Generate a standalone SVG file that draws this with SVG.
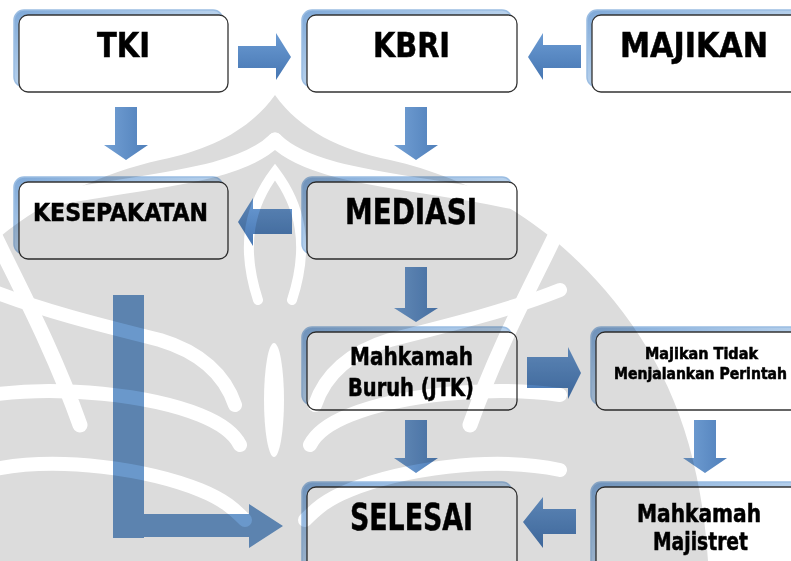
<svg xmlns="http://www.w3.org/2000/svg" width="791" height="561" viewBox="0 0 791 561">
<defs>
  <linearGradient id="gH" x1="0" y1="0" x2="0" y2="1">
    <stop offset="0" stop-color="#6b9bd3"/>
    <stop offset="1" stop-color="#4676b2"/>
  </linearGradient>
  <linearGradient id="gV" x1="0" y1="0" x2="1" y2="0">
    <stop offset="0" stop-color="#74a1d5"/>
    <stop offset="1" stop-color="#4f7fba"/>
  </linearGradient>
  <linearGradient id="gS" x1="0" y1="0" x2="1" y2="1">
    <stop offset="0" stop-color="#7fa9d8"/>
    <stop offset="0.5" stop-color="#b7d1ec"/>
    <stop offset="1" stop-color="#dbe8f5"/>
  </linearGradient>
  <style>
    .sh { fill: url(#gS); stroke: #9bbde2; stroke-width: 1.5; }
    .bx { fill: #ffffff; stroke: #333333; stroke-width: 1.3; }
    .t { font-family: "Liberation Sans Narrow", "DejaVu Sans Condensed", "Liberation Sans", sans-serif; font-weight: bold; fill: #000; stroke: #000; stroke-width: 0.5; }
    .ah { fill: url(#gH); }
    .av { fill: url(#gV); }
    .wm { fill: #dcdcdc; }
    .wb { fill: none; stroke: #ffffff; stroke-linecap: round; }
  </style>
</defs>
<rect x="0" y="0" width="791" height="561" fill="#ffffff"/>

<g id="connectors">
  <!-- TKI -> KBRI -->
  <polygon class="ah" points="238,46 276,46 276,33 291,57 276,80 276,68 238,68"/>
  <!-- MAJIKAN -> KBRI -->
  <polygon class="ah" points="581,45 543,45 543,33 528,57 543,80 543,68 581,68"/>
  <!-- TKI -> KESEPAKATAN -->
  <polygon class="av" points="115,107 137,107 137,145 148,145 126,160 104,145 115,145"/>
  <!-- KBRI -> MEDIASI -->
  <polygon class="av" points="405,107 427,107 427,145 438,145 416,160 394,145 405,145"/>
  <!-- MEDIASI -> KESEPAKATAN -->
  <polygon class="ah" points="292,209 253,209 253,198 238,222 253,246 253,234 292,234"/>
  <!-- MEDIASI -> Mahkamah Buruh -->
  <polygon class="av" points="405,267 427,267 427,308 438,308 416,322 394,308 405,308"/>
  <!-- Mahkamah Buruh -> Majikan Tidak -->
  <polygon class="ah" points="527,357 568,357 568,347 581,373 568,399 568,388 527,388"/>
  <!-- Mahkamah Buruh -> SELESAI -->
  <polygon class="av" points="405,420 427,420 427,458 438,458 416,473 394,458 405,458"/>
  <!-- Majikan Tidak -> Mahkamah Majistret -->
  <polygon class="av" points="694,420 716,420 716,458 727,458 705,473 683,458 694,458"/>
  <!-- Mahkamah Majistret -> SELESAI -->
  <polygon class="ah" points="576,509 543,509 543,497 523,522 543,548 543,534 576,534"/>
  <!-- KESEPAKATAN -> SELESAI (L) -->
  <polygon fill="#6a98cb" points="113,295 144,295 144,514 249,514 249,504 283,526 249,548 249,537 144,537 144,538 113,538"/>
</g>

<g id="node-tki">
  <rect class="sh" x="14" y="10" width="209" height="77" rx="10"/>
  <rect class="bx" x="19" y="15" width="209" height="77" rx="9"/>
  <text class="t" x="97" y="57" font-size="34" textLength="53" lengthAdjust="spacingAndGlyphs">TKI</text>
</g>
<g id="node-kbri">
  <rect class="sh" x="302" y="10" width="210" height="77" rx="10"/>
  <rect class="bx" x="307" y="15" width="210" height="77" rx="9"/>
  <text class="t" x="373" y="57" font-size="34" textLength="77" lengthAdjust="spacingAndGlyphs">KBRI</text>
</g>
<g id="node-majikan">
  <rect class="sh" x="587" y="10" width="220" height="77" rx="10"/>
  <rect class="bx" x="592" y="15" width="220" height="77" rx="9"/>
  <text class="t" x="620" y="57" font-size="34" textLength="148" lengthAdjust="spacingAndGlyphs">MAJIKAN</text>
</g>
<g id="node-kesepakatan">
  <rect class="sh" x="14" y="177" width="209" height="77" rx="10"/>
  <rect class="bx" x="19" y="182" width="209" height="77" rx="9"/>
  <text class="t" x="33" y="221" font-size="25" textLength="175" lengthAdjust="spacingAndGlyphs">KESEPAKATAN</text>
</g>
<g id="node-mediasi">
  <rect class="sh" x="302" y="177" width="210" height="77" rx="10"/>
  <rect class="bx" x="307" y="182" width="210" height="77" rx="9"/>
  <text class="t" x="345" y="224" font-size="35" textLength="132" lengthAdjust="spacingAndGlyphs">MEDIASI</text>
</g>
<g id="node-mahkamah-buruh">
  <rect class="sh" x="302" y="327" width="210" height="78" rx="10"/>
  <rect class="bx" x="307" y="332" width="210" height="78" rx="9"/>
  <text class="t" x="350" y="365" font-size="25" textLength="123" lengthAdjust="spacingAndGlyphs">Mahkamah</text>
  <text class="t" x="348" y="396" font-size="25" textLength="126" lengthAdjust="spacingAndGlyphs">Buruh (JTK)</text>
</g>
<g id="node-majikan-tidak">
  <rect class="sh" x="591" y="327" width="220" height="78" rx="10"/>
  <rect class="bx" x="596" y="332" width="220" height="78" rx="9"/>
  <text class="t" x="645" y="359" font-size="15" stroke-width="0.3" textLength="113" lengthAdjust="spacingAndGlyphs">Majikan Tidak</text>
  <text class="t" x="614" y="379" font-size="15" stroke-width="0.3" textLength="173" lengthAdjust="spacingAndGlyphs">Menjalankan Perintah</text>
</g>
<g id="node-selesai">
  <rect class="sh" x="302" y="482" width="210" height="90" rx="10"/>
  <rect class="bx" x="307" y="487" width="210" height="90" rx="9"/>
  <text class="t" x="350" y="530" font-size="37" textLength="123" lengthAdjust="spacingAndGlyphs">SELESAI</text>
</g>
<g id="node-mahkamah-majistret">
  <rect class="sh" x="591" y="482" width="220" height="90" rx="10"/>
  <rect class="bx" x="596" y="487" width="220" height="90" rx="9"/>
  <text class="t" x="637" y="522" font-size="25" textLength="124" lengthAdjust="spacingAndGlyphs">Mahkamah</text>
  <text class="t" x="653" y="550" font-size="25" textLength="95" lengthAdjust="spacingAndGlyphs">Majistret</text>
</g>

<g id="watermark" style="mix-blend-mode:multiply">
  <path class="wm" d="M275,95 C300,130 340,150 390,160 C470,178 545,220 605,290 C665,360 700,440 708,561 L-158,561 C-150,440 -115,360 -55,290 C5,220 80,178 160,160 C210,150 250,130 275,95 Z"/>
  <path class="wb" stroke-width="15" d="M275,140 C320,185 450,180 565,215 C540,270 500,340 470,425"/>
  <path class="wb" stroke-width="15" d="M275,140 C230,185 100,180 -15,215 C10,270 50,340 80,425"/>
  <path class="wb" stroke-width="10" d="M258,300 C240,245 250,205 275,172 C300,205 310,245 292,300"/>
  <ellipse cx="274" cy="400" rx="10" ry="57" fill="#ffffff"/>
  <path class="wb" stroke-width="14" d="M-10,290 C40,310 100,325 160,340 C200,352 225,375 235,405"/>
  <path class="wb" stroke-width="14" d="M-10,395 C60,385 150,395 200,415 C225,425 235,435 240,445"/>
  <path class="wb" stroke-width="14" d="M-10,470 C60,455 150,470 200,490 C225,500 235,510 245,520"/>
  <path class="wb" stroke-width="14" d="M560,290 C510,310 450,325 390,340 C350,352 325,375 315,405"/>
  <path class="wb" stroke-width="14" d="M560,395 C490,385 400,395 350,415 C325,425 315,435 310,445"/>
  <path class="wb" stroke-width="14" d="M560,470 C490,455 400,470 350,490 C325,500 315,510 305,520"/>
</g>
</svg>
